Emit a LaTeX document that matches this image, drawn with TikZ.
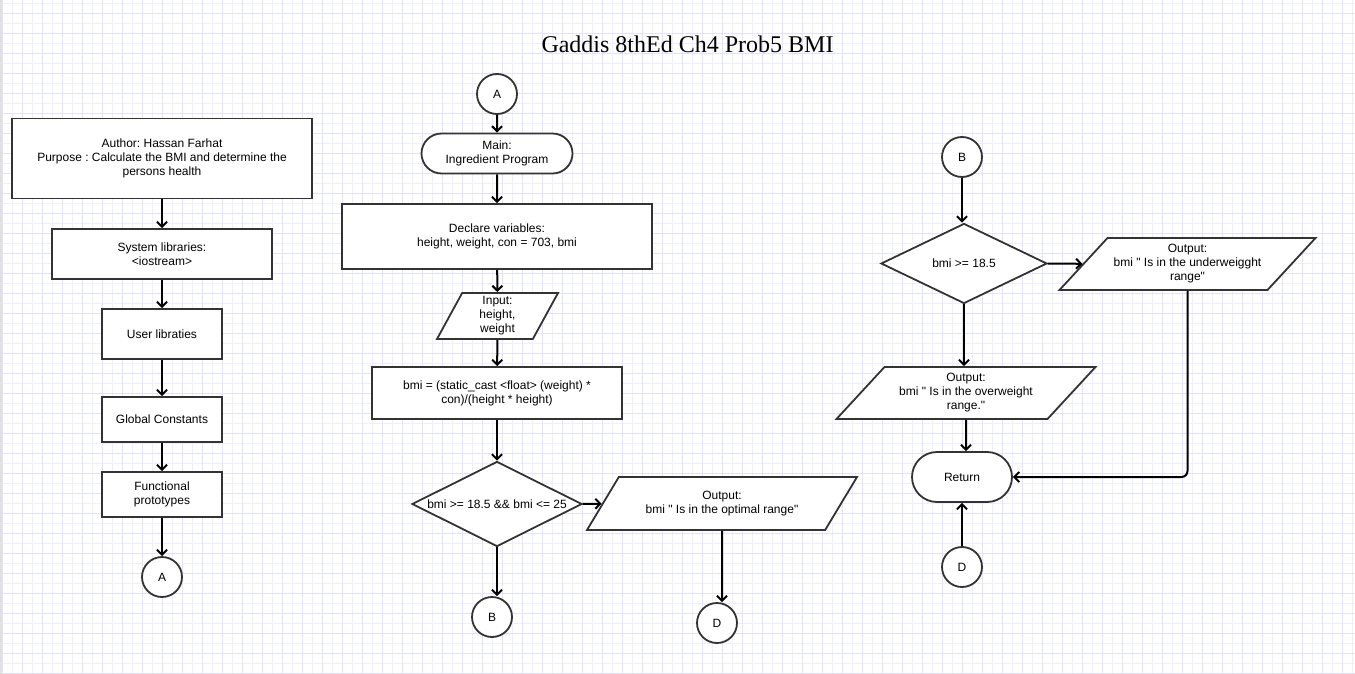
\documentclass[tikz,border=0pt]{standalone}
\usepackage{fontspec}
\setmainfont{Liberation Sans}[Ligatures=TeXOff]
\newfontfamily\titlefont{Liberation Serif}
\usetikzlibrary{shapes.geometric,shapes.misc,arrows.meta}
\definecolor{gridminor}{RGB}{239,239,251}
\definecolor{gridmajor}{RGB}{226,226,248}
\definecolor{lineframe}{RGB}{51,51,51}
\frenchspacing

\begin{document}
\begin{tikzpicture}[
x=1pt,y=-1pt,
>={Straight Barb[length=5pt,width=10pt]},
font=\fontsize{12}{14}\selectfont,
process/.style={
	draw=lineframe,
	line width=1.8pt,
	fill=white,
	align=center,
	inner sep=0pt
},
terminal/.style={
	process,
	rounded rectangle
},
decision/.style={
	process,
	diamond,
	aspect=2
},
io/.style={
	process,
	trapezium,
	trapezium stretches body,
	inner xsep=-30pt
},
connector/.style={
	process,
	circle,
	minimum size=40pt
},
flow/.style={
	->,
	line width=2pt
}
]
\useasboundingbox (0,0) rectangle (1355,674);
\fill[white] (0,0) rectangle (1355,674);
\foreach \i in {0,...,135}
\draw[gridminor,line width=1pt] (2.7+10*\i,0) -- ++(0,674);
\foreach \i in {0,...,67}
\draw[gridminor,line width=1pt] (0,3.3+10*\i) -- ++(1355,0);
\foreach \i in {0,...,67}
\draw[gridmajor,line width=1pt] (2.7+20*\i,0) -- ++(0,674);
\foreach \i in {0,...,33}
\draw[gridmajor,line width=1pt] (0,13.3+20*\i) -- ++(1355,0);
\fill[black!12] (0,0) rectangle (2,674);

\node[font=\titlefont\fontsize{24}{28}\selectfont] (title) at (687.5,44) {Gaddis 8thEd Ch4 Prob5 BMI};

% left column
\node[process,minimum width=300,minimum height=80] (author) at (162,158.5) {Author: Hassan Farhat\\ Purpose : Calculate the BMI and determine the\\ persons health};
\node[process,minimum width=220,minimum height=50] (syslib) at (162,254) {System libraries:\\ <iostream>};
\node[process,minimum width=120,minimum height=50] (userlib) at (162,334) {User libraties};
\node[process,minimum width=120,minimum height=45] (globals) at (162,419.5) {Global Constants};
\node[process,minimum width=120,minimum height=45] (protos) at (162,494.5) {Functional\\ prototypes};
\node[connector] (conA) at (162,577) {A};

% main program
\node[connector] (startA) at (497,94) {A};
\node[terminal,minimum width=151,minimum height=40] (main) at (497,153.5) {Main:\\ Ingredient Program};
\node[process,minimum width=310,minimum height=65] (declare) at (497,236.5) {Declare variables:\\ height, weight, con = 703, bmi};
\node[io,trapezium left angle=57,trapezium right angle=123,minimum width=121,minimum height=46] (input) at (497.5,316) {Input:\\ height,\\ weight};
\node[process,minimum width=250,minimum height=52] (calc) at (497,393) {bmi = (static\_cast <float> (weight) *\\ con)/(height * height)};
\node[decision,minimum width=170,minimum height=85] (optimal) at (497,504) {bmi >= 18.5 \&\& bmi <= 25};
\node[io,trapezium left angle=38,trapezium right angle=142,minimum width=270,minimum height=53] (outopt) at (722,503.5) {Output:\\ bmi " Is in the optimal range"};
\node[connector] (condB) at (492,617) {B};
\node[connector] (condD) at (717,623) {D};

% part B
\node[connector] (startB) at (962,157) {B};
\node[decision,minimum width=166,minimum height=80] (under) at (964,263.5) {bmi >= 18.5};
\node[io,trapezium left angle=39,trapezium right angle=141,minimum width=256,minimum height=52] (outunder) at (1187.5,264) {Output:\\ bmi " Is in the underweigght\\ range"};
\node[io,trapezium left angle=39,trapezium right angle=141,minimum width=259,minimum height=52] (outover) at (966,393) {Output:\\ bmi " Is in the overweight\\ range."};
\node[terminal,minimum width=100,minimum height=50] (ret) at (962,477) {Return};
\node[connector] (startD) at (962,567) {D};

\draw[flow] (author) -- (syslib);
\draw[flow] (syslib) -- (userlib);
\draw[flow] (userlib) -- (globals);
\draw[flow] (globals) -- (protos);
\draw[flow] (protos) -- (conA);

\draw[flow] (startA) -- (main);
\draw[flow] (main) -- (declare);
\draw[flow] (declare) -- (input);
\draw[flow] (input) -- (calc);
\draw[flow] (calc) -- (optimal);
\draw[flow] (optimal) -- (outopt);
\draw[flow] (optimal) -- (optimal |- condB.north);
\draw[flow] (outopt) -- (outopt |- condD.north);

\draw[flow] (startB) -- (startB |- under.north);
\draw[flow] (under) -- (outunder);
\draw[flow] (under) -- (under |- outover.north);
\draw[flow] (outover) -- (outover |- ret.north);
\draw[flow,rounded corners=6pt] (outunder) |- (ret);
\draw[flow] (startD) -- (ret);

\end{tikzpicture}
\end{document}
